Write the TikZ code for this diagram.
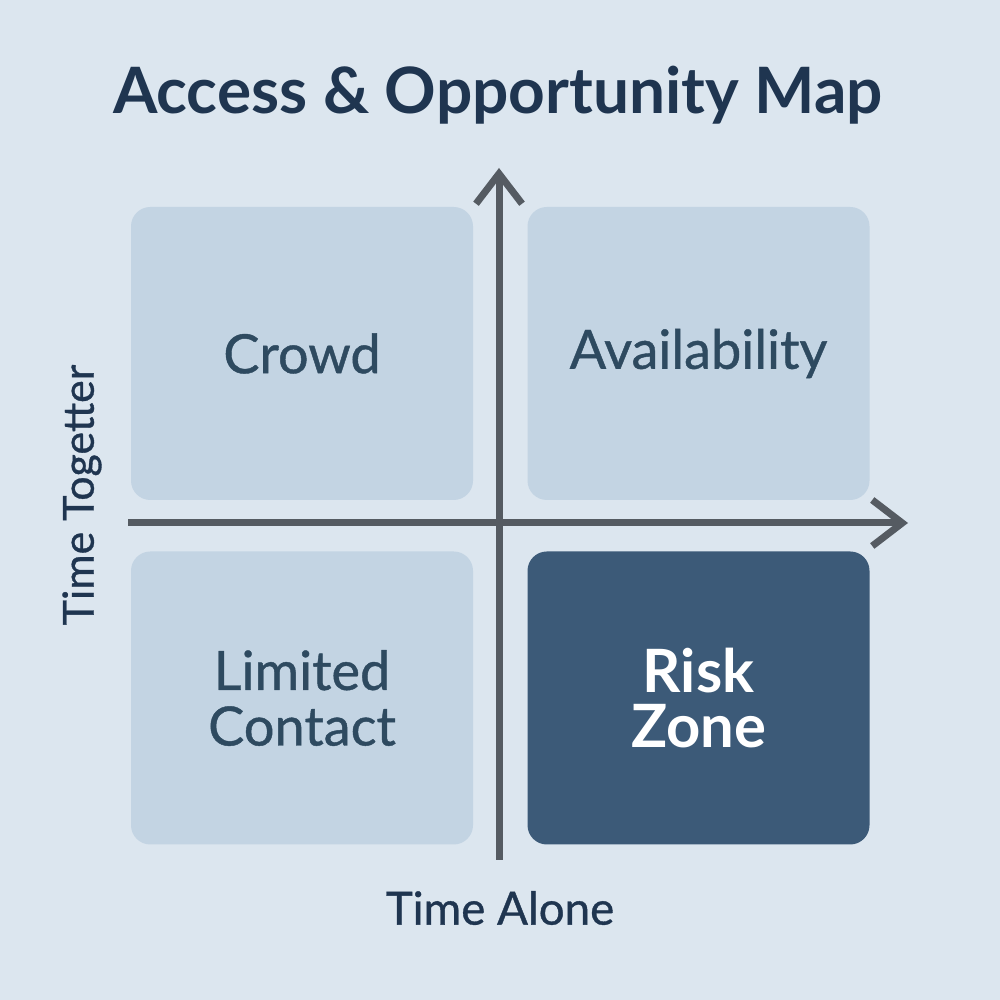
\documentclass[tikz,border=0pt]{standalone}
\usepackage{fontspec}
\setmainfont{Lato}
\newfontfamily\medfont{Lato}[FakeBold=0.8]
\usetikzlibrary{arrows.meta}
\definecolor{bgblue}{HTML}{DCE6EF}
\definecolor{boxblue}{HTML}{C3D4E3}
\definecolor{riskblue}{HTML}{3C5A78}
\definecolor{axisgray}{HTML}{555B62}
\definecolor{inktext}{HTML}{1F3550}
\definecolor{boxtext}{HTML}{2E4A60}

\begin{document}
\begin{tikzpicture}[font=\large,
 quad/.style={rounded corners=5.5pt,minimum width=3.42cm,minimum height=2.93cm,align=center,fill=boxblue,text=boxtext,font=\medfont\fontsize{15.4}{15.8}\selectfont},
 axis/.style={draw=axisgray,line width=0.07cm,-{Straight Barb[length=3mm,width=4.6mm]}},
 lbl/.style={text=inktext,font=\medfont\fontsize{13}{16}\selectfont}]
\useasboundingbox (0,0) rectangle (10,10);
\fill[bgblue] (0,0) rectangle (10,10);
% title
\node[text=inktext,font=\fontsize{18.2}{22}\selectfont\bfseries] (title) at (4.98,9.05) {Access \& Opportunity Map};
% quadrants
\node[quad] (crowd) at (3.02,6.465) {Crowd};
\node[quad] (avail) at (6.985,6.465) {Availability};
\node[quad] (limited) at (3.02,3.02) {Limited\\Contact};
\node[quad,fill=riskblue,text=white,font=\fontsize{17}{15.8}\selectfont\bfseries] (risk) at (6.985,3.02) {Risk\\Zone};
% axes
\coordinate (ybot) at (4.99,1.40);
\coordinate (ytop) at (4.99,8.32);
\coordinate (xleft) at (1.28,4.77);
\coordinate (xright) at (9.08,4.77);
\draw[axis] (ybot) -- (ytop);
\draw[axis] (xleft) -- (xright);
% axis labels
\node[lbl] (xlab) at (5.0,0.92) {Time Alone};
\node[lbl,rotate=90,font=\medfont\fontsize{12.2}{15}\selectfont] (ylab) at (0.82,5.05) {Time Togetter};
\end{tikzpicture}
\end{document}
